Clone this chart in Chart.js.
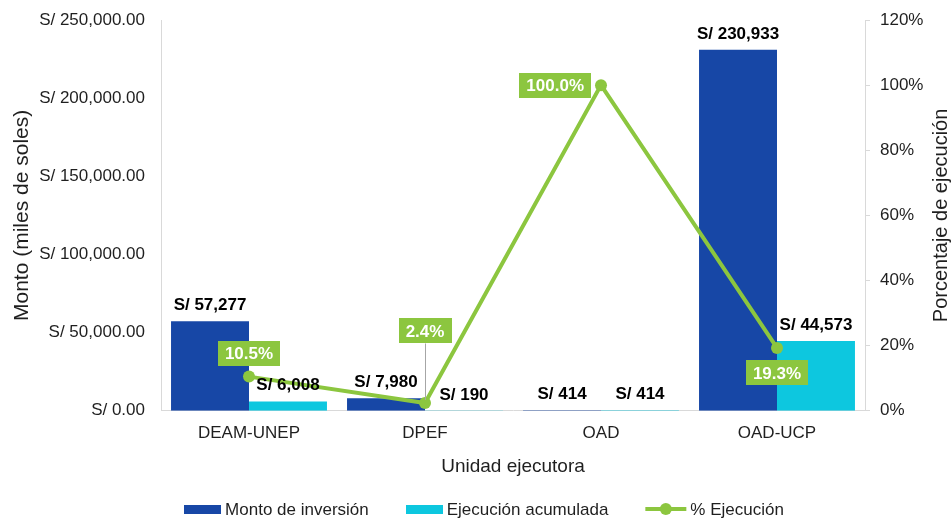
<!DOCTYPE html>
<html lang="es">
<head>
<meta charset="utf-8">
<title>Monto de inversión y ejecución por unidad ejecutora</title>
<script src="https://cdn.jsdelivr.net/npm/chart.js@4.4.0/dist/chart.umd.min.js"></script>
<style>
  html, body { margin: 0; padding: 0; background: #ffffff; }
  #wrap { width: 952px; height: 521px; position: relative; }
</style>
</head>
<body>
<div id="wrap"><canvas id="inversionChart"></canvas></div>
<script>
const categorias = ["DEAM-UNEP", "DPEF", "OAD", "OAD-UCP"];
const montoInversion = [57277, 7980, 414, 230933];
const ejecucionAcumulada = [6008, 190, 414, 44573];
const porcentajeEjecucion = [10.5, 2.4, 100.0, 19.3];

const ticksMonto = [0, 50000, 100000, 150000, 200000, 250000];
const ticksPorcentaje = [0, 20, 40, 60, 80, 100, 120];

// where each % label sits relative to its point
const posicionPorcentaje = ["arriba", "guia", "izquierda", "abajo"];

const AZUL = "#1747a6";
const CIAN = "#0dc7df";
const VERDE = "#8cc63f";
const TEXTO = "#1f1f1f";
const FUENTE = "'Liberation Sans', Arial, sans-serif";

function formatSoles(value, decimales) {
    return "S/ " + value.toLocaleString("en-US", {
        minimumFractionDigits: decimales,
        maximumFractionDigits: decimales
    });
}

const etiquetasPlugin = {
    id: "etiquetas",
    afterDatasetsDraw(chart) {
        const ctx = chart.ctx;
        ctx.save();

        // amounts above the bars
        ctx.font = "bold 17px " + FUENTE;
        ctx.fillStyle = "#000000";
        ctx.textAlign = "center";
        ctx.textBaseline = "alphabetic";
        [0, 1].forEach(i => {
            const meta = chart.getDatasetMeta(i);
            const datos = chart.data.datasets[i].data;
            meta.data.forEach((bar, j) => {
                ctx.fillText(formatSoles(datos[j], 0), bar.x, bar.y - 11);
            });
        });

        // percentage boxes
        const metaLinea = chart.getDatasetMeta(2);
        ctx.textBaseline = "middle";
        metaLinea.data.forEach((pt, j) => {
            const texto = porcentajeEjecucion[j].toFixed(1) + "%";
            const w = ctx.measureText(texto).width + 14;
            const h = 25;
            let cx = pt.x, cy = pt.y;
            const pos = posicionPorcentaje[j];
            if (pos === "arriba") cy = pt.y - 23;
            if (pos === "abajo") cy = pt.y + 25;
            if (pos === "izquierda") cx = pt.x - 10 - w / 2;
            if (pos === "guia") {
                cy = pt.y - 72;
                ctx.strokeStyle = "#a6a6a6";
                ctx.lineWidth = 1;
                ctx.beginPath();
                ctx.moveTo(Math.round(pt.x) + 0.5, cy + h / 2);
                ctx.lineTo(Math.round(pt.x) + 0.5, pt.y - 3);
                ctx.stroke();
            }
            ctx.fillStyle = VERDE;
            ctx.fillRect(Math.round(cx - w / 2), Math.round(cy - h / 2), Math.round(w), h);
            ctx.fillStyle = "#ffffff";
            ctx.fillText(texto, cx, cy + 1);
        });

        ctx.restore();
    },
    afterDraw(chart) {
        const ctx = chart.ctx;
        ctx.save();

        // right axis title, reading bottom to top like the left one
        const area = chart.chartArea;
        ctx.font = "20px " + FUENTE;
        ctx.fillStyle = TEXTO;
        ctx.textAlign = "center";
        ctx.textBaseline = "middle";
        ctx.translate(chart.width - 11, (area.top + area.bottom) / 2);
        ctx.rotate(-Math.PI / 2);
        ctx.fillText("Porcentaje de ejecución", 0, 0);
        ctx.setTransform(1, 0, 0, 1, 0, 0);

        // legend
        ctx.font = "17px " + FUENTE;
        ctx.textAlign = "left";
        const items = chart.data.datasets.map(ds => ({
            texto: ds.label,
            color: ds.borderColor || ds.backgroundColor,
            linea: ds.type === "line",
            ancho: ds.type === "line" ? 41 : 37
        }));
        const gapTexto = 4, gapItem = 37;
        let total = 0;
        items.forEach((it, i) => {
            it.tw = ctx.measureText(it.texto).width;
            total += it.ancho + gapTexto + it.tw + (i ? gapItem : 0);
        });
        let x = chart.width / 2 + 8 - total / 2;
        const y = chart.height - 12;
        items.forEach(it => {
            if (it.linea) {
                ctx.strokeStyle = it.color;
                ctx.lineWidth = 4;
                ctx.beginPath();
                ctx.moveTo(x, y);
                ctx.lineTo(x + it.ancho, y);
                ctx.stroke();
                ctx.fillStyle = it.color;
                ctx.beginPath();
                ctx.arc(x + it.ancho / 2, y, 6, 0, Math.PI * 2);
                ctx.fill();
            } else {
                ctx.fillStyle = it.color;
                ctx.fillRect(Math.round(x), y - 4, it.ancho, 9);
            }
            x += it.ancho + gapTexto;
            ctx.fillStyle = TEXTO;
            ctx.fillText(it.texto, x, y + 1);
            x += it.tw + gapItem;
        });

        ctx.restore();
    }
};

new Chart(document.getElementById("inversionChart"), {
    type: "bar",
    data: {
        labels: categorias,
        datasets: [{
            label: "Monto de inversión",
            data: montoInversion,
            backgroundColor: AZUL,
            yAxisID: "y",
            order: 2
        }, {
            label: "Ejecución acumulada",
            data: ejecucionAcumulada,
            backgroundColor: CIAN,
            yAxisID: "y",
            order: 2
        }, {
            type: "line",
            label: "% Ejecución",
            data: porcentajeEjecucion,
            borderColor: VERDE,
            backgroundColor: VERDE,
            borderWidth: 4,
            pointRadius: 6,
            pointHoverRadius: 6,
            pointBackgroundColor: VERDE,
            pointBorderWidth: 0,
            tension: 0,
            yAxisID: "y1",
            order: 1
        }]
    },
    options: {
        responsive: true,
        maintainAspectRatio: false,
        animation: false,
        datasets: {
            bar: {
                categoryPercentage: 0.886,
                barPercentage: 1.0
            }
        },
        layout: {
            padding: { top: 0, left: 2, right: 28, bottom: 43 }
        },
        plugins: {
            tooltip: { enabled: false },
            legend: { display: false }
        },
        scales: {
            x: {
                grid: { display: false, drawTicks: false },
                border: { color: "#d9d9d9" },
                ticks: {
                    color: TEXTO,
                    padding: 12,
                    font: { family: FUENTE, size: 17 }
                },
                title: {
                    display: true,
                    text: "Unidad ejecutora",
                    color: TEXTO,
                    padding: { top: 0, bottom: 0 },
                    font: { family: FUENTE, size: 19 }
                }
            },
            y: {
                position: "left",
                min: 0,
                max: 250000,
                afterBuildTicks: axis => { axis.ticks = ticksMonto.map(v => ({ value: v })); },
                afterFit: axis => { axis.width = 159; axis.paddingTop = 20; },
                grid: { display: false, drawTicks: false },
                border: { color: "#d9d9d9" },
                ticks: {
                    color: TEXTO,
                    padding: 16,
                    font: { family: FUENTE, size: 17 },
                    callback: value => formatSoles(value, 2)
                },
                title: {
                    display: true,
                    text: "Monto (miles de soles)",
                    color: TEXTO,
                    padding: { top: 8, bottom: 4 },
                    font: { family: FUENTE, size: 21 }
                }
            },
            y1: {
                position: "right",
                min: 0,
                max: 120,
                afterBuildTicks: axis => { axis.ticks = ticksPorcentaje.map(v => ({ value: v })); },
                afterFit: axis => { axis.width = 59; axis.paddingTop = 20; },
                grid: {
                    drawOnChartArea: false,
                    color: "#d9d9d9",
                    tickLength: 5
                },
                border: { color: "#d9d9d9" },
                ticks: {
                    color: TEXTO,
                    padding: 10,
                    font: { family: FUENTE, size: 17 },
                    callback: value => value + "%"
                }
            }
        }
    },
    plugins: [etiquetasPlugin]
});
</script>
</body>
</html>
